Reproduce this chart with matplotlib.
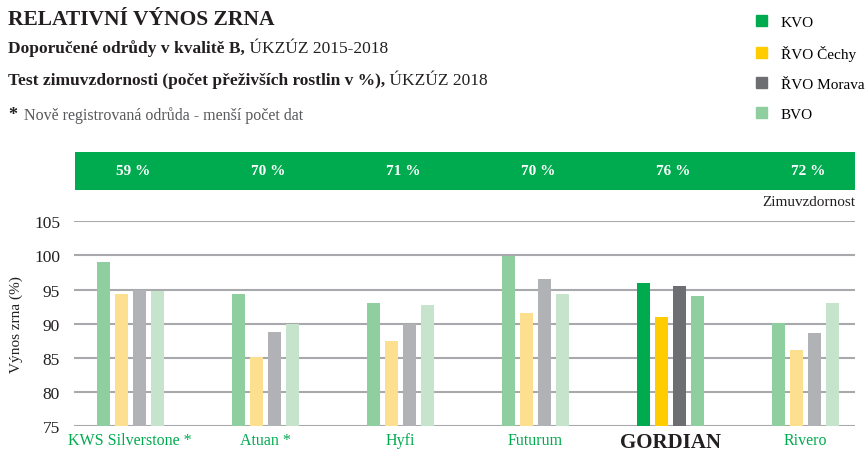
import matplotlib.pyplot as plt
from matplotlib.patches import Patch, Rectangle
from matplotlib.transforms import blended_transform_factory
import numpy as np

plt.rcParams['font.family'] = ['Liberation Serif', 'DejaVu Serif']

odrudy = ['KWS Silverstone *', 'Atuan *', 'Hyfi', 'Futurum', 'GORDIAN', 'Rivero']
zimuvzdornost = ['59 %', '70 %', '71 %', '70 %', '76 %', '72 %']
serie = ['KVO', 'ŘVO Čechy', 'ŘVO Morava', 'BVO']

kvo = [99.0, 94.4, 93.1, 99.9, 96.0, 90.1]
rvo_cechy = [94.4, 85.1, 87.5, 91.6, 91.0, 86.1]
rvo_morava = [95.0, 88.8, 89.9, 96.5, 95.6, 88.7]
bvo = [94.8, 89.9, 92.8, 94.3, 94.0, 93.0]

barvy_gordian = ['#00aa4f', '#ffcc00', '#6d6e71', '#8fce9e']
barvy_ostatni = ['#8fce9e', '#fde08f', '#b1b2b5', '#c6e4cb']
zelena = '#00aa4f'
cerna = '#231f20'

fig = plt.figure(figsize=(8.66, 4.52), dpi=100)
ax = fig.add_axes([74 / 866, 1 - 427.3 / 452, 781 / 866, 205 / 452])

x = np.arange(len(odrudy))
w = 0.096
krok = 0.133
for j, vals in enumerate([kvo, rvo_cechy, rvo_morava, bvo]):
    barvy = [barvy_gordian[j] if o == 'GORDIAN' else barvy_ostatni[j] for o in odrudy]
    ax.bar(x + (j - 1.5) * krok, vals, width=w, color=barvy, zorder=3)

ax.set_ylim(75, 105)
ax.set_xlim(-0.415, 5.365)
ax.set_yticks(range(75, 106, 5))
ax.yaxis.grid(True, color='#a7a9ac', linewidth=1.5, zorder=0)
ax.set_axisbelow(True)
for s in ax.spines.values():
    s.set_visible(False)
ax.tick_params(axis='y', length=0, labelsize=12.5, colors=cerna, pad=10)
ax.set_ylabel('Výnos zrna (%)', fontsize=11, color=cerna, labelpad=8)

ax.set_xticks(x)
ax.set_xticklabels(odrudy)
for lab in ax.get_xticklabels():
    if lab.get_text() == 'GORDIAN':
        lab.set_fontsize(15)
        lab.set_fontweight('bold')
        lab.set_color(cerna)
    else:
        lab.set_fontsize(11.5)
        lab.set_color(zelena)
ax.tick_params(axis='x', length=0, pad=4)

# zeleny pruh se zimuvzdornosti
fig.add_artist(Rectangle((75 / 866, 1 - 190.7 / 452), 780 / 866, 38 / 452,
                         transform=fig.transFigure, color=zelena, lw=0))
tr = blended_transform_factory(ax.transData, fig.transFigure)
for xi, z in zip(x, zimuvzdornost):
    fig.text(xi + 0.02, 1 - 171.5 / 452, z, transform=tr, ha='center', va='center',
             color='white', fontsize=11, fontweight='bold')
fig.text(855 / 866, 1 - 203 / 452, 'Zimuvzdornost', ha='right', va='center',
         fontsize=11, color=cerna)

# nadpisy
fig.text(8 / 866, 1 - 20 / 452, 'RELATIVNÍ VÝNOS ZRNA', ha='left', va='center',
         fontsize=15.5, fontweight='bold', color=cerna)
t1 = fig.text(8 / 866, 1 - 49 / 452, 'Doporučené odrůdy v kvalitě B,', ha='left',
              va='center', fontsize=12.5, fontweight='bold', color=cerna)
t2 = fig.text(8 / 866, 1 - 81 / 452, 'Test zimuvzdornosti (počet přeživších rostlin v %),',
              ha='left', va='center', fontsize=12.5, fontweight='bold', color=cerna)
fig.add_artist(plt.Annotation(' ÚKZÚZ 2015-2018', xy=(1, 0), xycoords=t1, ha='left',
                              va='bottom', fontsize=12.5, color=cerna))
fig.add_artist(plt.Annotation(' ÚKZÚZ 2018', xy=(1, 0), xycoords=t2, ha='left',
                              va='bottom', fontsize=12.5, color=cerna))
fig.text(8 / 866, 1 - 116 / 452, '*', ha='left', va='center', fontsize=13,
         fontweight='bold', color=cerna)
fig.text(24 / 866, 1 - 116 / 452, 'Nově registrovaná odrůda - menší počet dat',
         ha='left', va='center', fontsize=11.5, color='#58595b')

# legenda
handles = [Patch(color=c) for c in barvy_gordian]
fig.legend(handles, serie, loc='upper left', bbox_to_anchor=(748 / 866, 1 - 8 / 452),
           frameon=False, fontsize=11, handlelength=0.75, handleheight=0.75,
           handletextpad=0.9, labelspacing=1.05, borderpad=0)

fig.savefig('out.png', dpi=100)
